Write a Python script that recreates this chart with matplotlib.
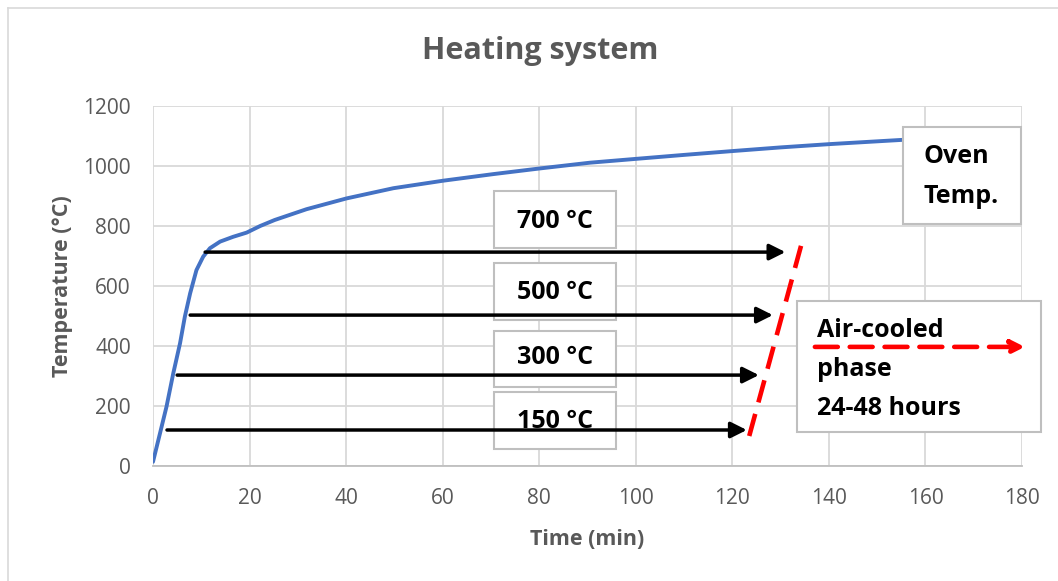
import matplotlib
matplotlib.use("Agg")
import matplotlib.pyplot as plt
from matplotlib.patches import Rectangle, FancyArrowPatch

plt.rcParams['font.family'] = ['Open Sans', 'DejaVu Sans']

# Oven temperature profile (min, °C)
time_min = [0, 1.45, 2.8, 4.2, 5.6, 6.6, 7.7, 9.0, 10.4, 11.8, 13.9, 16.6, 19.4,
            22.2, 25.2, 31.8, 40.1, 49.8, 60.1, 70.5, 80.2, 90.5, 100.2, 110.0,
            120.2, 130.0, 140.2, 155.1]
oven_temp = [14, 109, 198, 309, 409, 498, 576, 653, 698, 726, 748, 764, 778,
             800, 820, 856, 892, 926, 951, 973, 992, 1011, 1024, 1037,
             1050, 1062, 1073, 1087]

# Holding temperatures and their arrow extents (min)
hold_labels = ['700 °C', '500 °C', '300 °C', '150 °C']
hold_temps = [713, 503, 303, 120]
hold_start = [10.8, 7.7, 5.0, 2.9]
hold_end = [131.0, 128.4, 125.5, 123.0]

# Start of the air-cooled phase
cool_x = [123.5, 134.5]
cool_y = [100, 750]

x_ticks = list(range(0, 181, 20))
y_ticks = list(range(0, 1201, 200))

GRAY_TXT = '#595959'
GRID = '#d9d9d9'
ANN_SIZE = 18

fig = plt.figure(figsize=(10.58, 5.81), dpi=100)
ax = fig.add_axes([153 / 1058, 1 - 466 / 581, (1022 - 153) / 1058, (466 - 106) / 581])

ax.set_xlim(0, 180)
ax.set_ylim(0, 1200)
ax.set_xticks(x_ticks)
ax.set_yticks(y_ticks)
ax.grid(True, color=GRID, lw=1.3)
ax.set_axisbelow(True)
for s in ['left', 'right', 'top']:
    ax.spines[s].set_visible(False)
ax.spines['bottom'].set_color('#bfbfbf')
ax.spines['bottom'].set_linewidth(1.3)
ax.tick_params(length=0, labelsize=15, labelcolor=GRAY_TXT)
ax.tick_params(axis='x', pad=16)
ax.tick_params(axis='y', pad=16)

ax.plot(time_min, oven_temp, color='#4472c4', lw=2.8, solid_capstyle='round',
        solid_joinstyle='round', zorder=3)


def box(x0, x1, y0, y1):
    ax.add_patch(Rectangle((x0, y0), x1 - x0, y1 - y0, facecolor='white',
                           edgecolor='#bfbfbf', lw=1.5, zorder=4, clip_on=False))


def label(x, y, s, ha='left'):
    ax.text(x, y, s, ha=ha, va='center', fontsize=ANN_SIZE, fontweight='bold',
            color='black', zorder=5, clip_on=False)


# Temperature label boxes (drawn below the arrows)
box_x = (70.6, 95.8)
box_y = [(727, 917), (487, 677), (263, 450), (57, 247)]
text_y = [815, 578, 360, 150]
for lab, (y0, y1), ty in zip(hold_labels, box_y, text_y):
    box(box_x[0], box_x[1], y0, y1)
    label(sum(box_x) / 2, ty, lab, ha='center')

for t, x0, x1 in zip(hold_temps, hold_start, hold_end):
    ax.annotate('', xy=(x1, t), xytext=(x0, t), zorder=6,
                arrowprops=dict(arrowstyle='-|>', color='black', lw=2.5,
                                mutation_scale=24, shrinkA=0, shrinkB=0))

ax.plot(cool_x, cool_y, color='#ff0000', lw=3.3, dashes=(5, 2.6), zorder=6)

# Oven Temp. box
box(155.3, 179.8, 807, 1130)
label(159.5, 1030, 'Oven')
label(159.5, 897, 'Temp.')

# Air-cooled box
box(133.4, 183.9, 113, 550)
label(137.5, 452, 'Air-cooled')
label(137.5, 323, 'phase')
label(137.5, 193, '24-48 hours')
arr = FancyArrowPatch((137.1, 397), (180.6, 397), arrowstyle='-|>', color='#ff0000',
                      lw=3.3, linestyle=(0, (5, 2.6)), mutation_scale=20,
                      shrinkA=0, shrinkB=0, zorder=6, clip_on=False)
ax.add_patch(arr)

ax.set_xlabel('Time (min)', fontsize=15.5, fontweight='bold', color=GRAY_TXT, labelpad=14)
ax.set_ylabel('Temperature (°C)', fontsize=15.5, fontweight='bold', color=GRAY_TXT, labelpad=7)

fig.text(540 / 1058, 1 - 51 / 581, 'Heating system', ha='center', va='center',
         fontsize=22, fontweight='bold', color=GRAY_TXT)

# Chart frame
fig.add_artist(plt.Line2D([8 / 1058, 8 / 1058], [0, 1 - 8 / 581], transform=fig.transFigure,
                          color='#d9d9d9', lw=1.2))
fig.add_artist(plt.Line2D([8 / 1058, 1], [1 - 8 / 581, 1 - 8 / 581], transform=fig.transFigure,
                          color='#d9d9d9', lw=1.2))

fig.savefig('out.png', dpi=100)
